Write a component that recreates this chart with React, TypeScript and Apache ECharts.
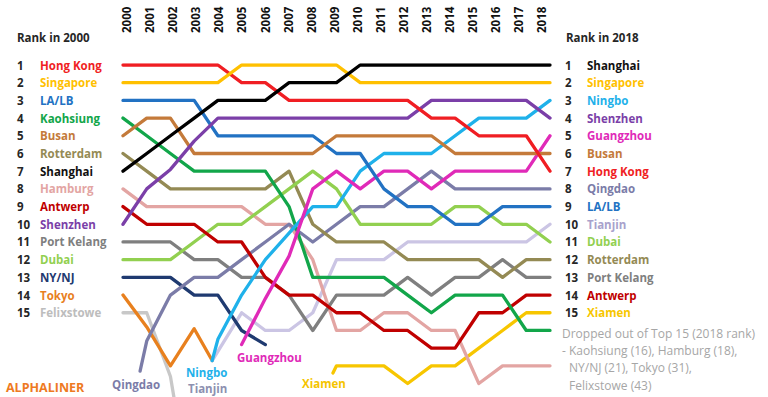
import React, { useEffect, useRef } from "react";
import * as echarts from "echarts";

const years = [2000, 2001, 2002, 2003, 2004, 2005, 2006, 2007, 2008, 2009, 2010, 2011, 2012, 2013, 2014, 2015, 2016, 2017, 2018];

// ranks per year (2000..2018), null = not shown
const hongKong = [1, 1, 1, 1, 1, 2, 2, 3, 3, 3, 3, 3, 3, 4, 4, 5, 5, 5, 7];
const singapore = [2, 2, 2, 2, 2, 1, 1, 1, 1, 1, 2, 2, 2, 2, 2, 2, 2, 2, 2];
const laLb = [3, 3, 3, 3, 5, 5, 5, 5, 5, 6, 6, 8, 9, 9, 10, 10, 9, 9, 9];
const kaohsiung = [4, 5, 6, 7, 7, 7, 7, 9, 13, 13, 13, 13, 14, 15, 14, 14, 14, 16, 16];
const busan = [5, 4, 4, 6, 6, 6, 6, 6, 6, 5, 5, 5, 5, 5, 6, 6, 6, 6, 6];
const rotterdam = [6, 7, 8, 8, 8, 8, 8, 7, 10, 11, 11, 11, 12, 12, 12, 12, 13, 12, 12];
const shanghai = [7, 6, 5, 4, 3, 3, 3, 2, 2, 2, 1, 1, 1, 1, 1, 1, 1, 1, 1];
const hamburg = [8, 9, 9, 9, 9, 9, 10, 10, 12, 16, 16, 15, 15, 16, 16, 19, 18, 18, 18];
const antwerp = [9, 10, 10, 10, 11, 11, 13, 14, 14, 15, 15, 16, 16, 17, 17, 15, 15, 14, 14];
const shenzhen = [10, 8, 6.9, 5.3, 4, 4, 4, 4, 4, 4, 4, 4, 4, 3, 3, 3, 3, 3, 4];
const portKelang = [11, 11, 11, 12, 12, 13, 13, 14, 16, 14, 14, 14, 13, 14, 13, 13, 12, 13, 13];
const dubai = [12, 12, 12, 11, 10, 10, 9, 8, 7, 8, 10, 10, 10, 10, 9, 9, 10, 10, 11];
const nyNj = [13, 13, 13, 14, 14, 16, 16.8, null, null, null, null, null, null, null, null, null, null, null, null];
const tokyo = [14, 15.8, 18, 15.9, null, null, null, null, null, null, null, null, null, null, null, null, null, null, null];
const felixstowe = [15, 15, 18.6, null, null, null, null, null, null, null, null, null, null, null, null, null, null, null, null];
const qingdao = [null, 16.6, 14, 13, 13, 12, 11, 10, 11, 10, 9, 9, 8, 7, 8, 8, 8, 8, 8];
const ningbo = [null, null, null, null, 16.5, 14, 12, 10.5, 9, 9, 7, 6, 6, 6, 5, 4, 4, 4, 3];
const tianjin = [null, null, null, null, null, 15, 16, 16, 15, 12, 12, 12, 11, 11, 11, 11, 11, 11, 10];
const guangzhou = [null, null, null, null, null, 16.8, 14.2, 11.8, 8, 7, 8, 7, 7, 8, 7, 7, 7, 7, 5];
const xiamen = [null, null, null, null, null, null, null, null, null, 18, 18, 18, 19, 18, 18, 17, 16, 15, 15];

// points between years where a line enters or leaves the picture [year, rank]
const qingdaoEntry = [2000.72, 18.3];
const ningboEntry = [2003.76, 17.7];
const tianjinEntry = [2003.76, 17.7];
const xiamenEntry = [2008.85, 18.4];
const tokyoExit = [2003.76, 17.7];
const felixstoweExit = [2002.3, 21];

const leftNames = ["Hong Kong", "Singapore", "LA/LB", "Kaohsiung", "Busan", "Rotterdam", "Shanghai", "Hamburg", "Antwerp", "Shenzhen", "Port Kelang", "Dubai", "NY/NJ", "Tokyo", "Felixstowe"];
const leftColors = ["#F01E23", "#FFC000", "#2272C3", "#12A64A", "#C47A3A", "#948A54", "#111111", "#E3A5A3", "#C00000", "#7B3FA8", "#7F7F7F", "#92D050", "#1F3A70", "#E8801E", "#BDBDBD"];
const rightNames = ["Shanghai", "Singapore", "Ningbo", "Shenzhen", "Guangzhou", "Busan", "Hong Kong", "Qingdao", "LA/LB", "Tianjin", "Dubai", "Rotterdam", "Port Kelang", "Antwerp", "Xiamen"];
const rightColors = ["#111111", "#FFC000", "#1FB1EA", "#7B3FA8", "#E02AB8", "#C47A3A", "#F01E23", "#7B7CA8", "#2272C3", "#A8A2CC", "#92D050", "#948A54", "#7F7F7F", "#C00000", "#F7C600"];
const droppedLines = ["Dropped out of Top 15 (2018 rank)", "- Kaohsiung (16), Hamburg (18),", "NY/NJ (21), Tokyo (31),", "Felixstowe (43)"];

const seriesDefs: any[] = [
  { name: "Felixstowe", ranks: felixstowe, color: "#C8C8C8", exit: felixstoweExit },
  { name: "Tokyo", ranks: tokyo, color: "#E8801E", exit: tokyoExit },
  { name: "Tianjin", ranks: tianjin, color: "#CBC5E4", entry: tianjinEntry },
  { name: "Xiamen", ranks: xiamen, color: "#F7C600", entry: xiamenEntry },
  { name: "Hamburg", ranks: hamburg, color: "#E3A5A3" },
  { name: "Port Kelang", ranks: portKelang, color: "#7F7F7F" },
  { name: "NY/NJ", ranks: nyNj, color: "#1F3A70" },
  { name: "Qingdao", ranks: qingdao, color: "#7B7CA8", entry: qingdaoEntry },
  { name: "Rotterdam", ranks: rotterdam, color: "#948A54" },
  { name: "Dubai", ranks: dubai, color: "#92D050" },
  { name: "Antwerp", ranks: antwerp, color: "#C00000" },
  { name: "Kaohsiung", ranks: kaohsiung, color: "#12A64A" },
  { name: "Ningbo", ranks: ningbo, color: "#1FB1EA", entry: ningboEntry },
  { name: "Guangzhou", ranks: guangzhou, color: "#E02AB8" },
  { name: "LA/LB", ranks: laLb, color: "#2272C3" },
  { name: "Busan", ranks: busan, color: "#C47A3A" },
  { name: "Shenzhen", ranks: shenzhen, color: "#7B3FA8" },
  { name: "Hong Kong", ranks: hongKong, color: "#F01E23" },
  { name: "Singapore", ranks: singapore, color: "#FFC000" },
  { name: "Shanghai", ranks: shanghai, color: "#000000" },
];

const annotations = [
  { text: "Qingdao", color: "#7B7CA8", x: 112, y: 384 },
  { text: "Ningbo", color: "#1FB1EA", x: 186, y: 372 },
  { text: "Tianjin", color: "#8D90B0", x: 188, y: 388 },
  { text: "Guangzhou", color: "#E02AB8", x: 237, y: 357 },
  { text: "Xiamen", color: "#F5C400", x: 302, y: 383 },
];

const FONT = '"Open Sans", "Noto Sans", sans-serif';
const FS = 11.5;

function buildData(def: any) {
  const pts: any[] = [];
  if (def.entry) pts.push(def.entry);
  def.ranks.forEach((r: number | null, i: number) => {
    if (r !== null) pts.push([years[i], r]);
  });
  if (def.exit) pts.push(def.exit);
  return pts;
}

function makeRich(colors: string[], numWidth: number) {
  const rich: any = {
    n: { width: numWidth, fontWeight: "bold", color: "#262626", fontSize: FS, fontFamily: FONT, align: "left" },
  };
  colors.forEach((c, i) => {
    rich["c" + i] = { color: c, fontWeight: "bold", fontSize: FS, fontFamily: FONT };
  });
  return rich;
}

export default function App() {
  const ref = useRef<HTMLDivElement>(null);
  useEffect(() => {
    if (!ref.current) return;
    const chart = echarts.init(ref.current, undefined, { renderer: "svg" });
    const option: any = {
      animation: false,
      backgroundColor: "#ffffff",
      textStyle: { fontFamily: FONT },
      grid: [
        { left: 123, top: 65, width: 427, bottom: 0, containLabel: false, outerBoundsMode: "none" },
        { left: 126.7, top: 35, width: 415, height: 5, containLabel: false, outerBoundsMode: "none" },
      ],
      xAxis: [
        { type: "value", gridIndex: 0, min: 2000, max: 2018, show: false },
        {
          type: "value",
          gridIndex: 1,
          min: 2000,
          max: 2018,
          interval: 1,
          position: "top",
          axisLine: { show: false },
          axisTick: { show: false },
          splitLine: { show: false },
          axisLabel: {
            rotate: 90,
            margin: 2,
            formatter: (v: number) => String(v),
            fontWeight: "bold",
            fontSize: FS,
            color: "#111111",
            fontFamily: FONT,
          },
        },
      ],
      yAxis: [
        {
          type: "value",
          gridIndex: 0,
          min: 1,
          max: 19.76,
          interval: 1,
          inverse: true,
          position: "left",
          axisLine: { show: false },
          axisTick: { show: false },
          splitLine: { show: false },
          axisLabel: {
            align: "left",
            margin: 106,
            showMaxLabel: false,
            formatter: (v: number) => {
              const i = Math.round(v) - 1;
              if (i < 0 || i > 14) return "";
              return `{n|${v}}{c${i}|${leftNames[i]}}`;
            },
            rich: makeRich(leftColors, 23),
          },
        },
        {
          type: "value",
          gridIndex: 0,
          min: 1,
          max: 19.76,
          interval: 1,
          inverse: true,
          position: "right",
          axisLine: { show: false },
          axisTick: { show: false },
          splitLine: { show: false },
          axisLabel: {
            align: "left",
            margin: 15,
            showMaxLabel: false,
            formatter: (v: number) => {
              const i = Math.round(v) - 1;
              if (i < 0 || i > 14) return "";
              return `{n|${v}}{c${i}|${rightNames[i]}}`;
            },
            rich: makeRich(rightColors, 22),
          },
        },
        { type: "value", gridIndex: 1, show: false },
      ],
      series: seriesDefs.map((d) => ({
        type: "line",
        name: d.name,
        xAxisIndex: 0,
        yAxisIndex: 0,
        data: buildData(d),
        showSymbol: false,
        symbol: "none",
        clip: true,
        lineStyle: { color: d.color, width: 3.3, cap: "round", join: "round" },
        itemStyle: { color: d.color },
        emphasis: { disabled: true },
      })),
      graphic: [
        {
          type: "text",
          left: 17,
          top: 31,
          style: { text: "Rank in 2000", fill: "#262626", font: `bold ${FS}px ${FONT}` },
        },
        {
          type: "text",
          left: 566,
          top: 31,
          style: { text: "Rank in 2018", fill: "#262626", font: `bold ${FS}px ${FONT}` },
        },
        {
          type: "text",
          left: 6,
          top: 381,
          style: { text: "ALPHALINER", fill: "#EE7A22", font: `bold 12.5px ${FONT}` },
        },
        ...annotations.map((a) => ({
          type: "text",
          x: a.x,
          y: a.y,
          style: { text: a.text, fill: a.color, font: `bold ${FS}px ${FONT}`, textVerticalAlign: "middle", verticalAlign: "middle" },
        })),
        ...droppedLines.map((t, i) => ({
          type: "text",
          x: i < 2 ? 562 : 569,
          y: 333 + i * 17.4,
          style: { text: t, fill: "#A6A6A6", font: `12px ${FONT}`, textVerticalAlign: "middle", verticalAlign: "middle" },
        })),
      ],
    };
    chart.setOption(option);
    return () => chart.dispose();
  }, []);
  return (
    <div
      ref={ref}
      style={{ position: "fixed", left: 0, top: 0, width: 768, height: 397, background: "#fff" }}
    />
  );
}
